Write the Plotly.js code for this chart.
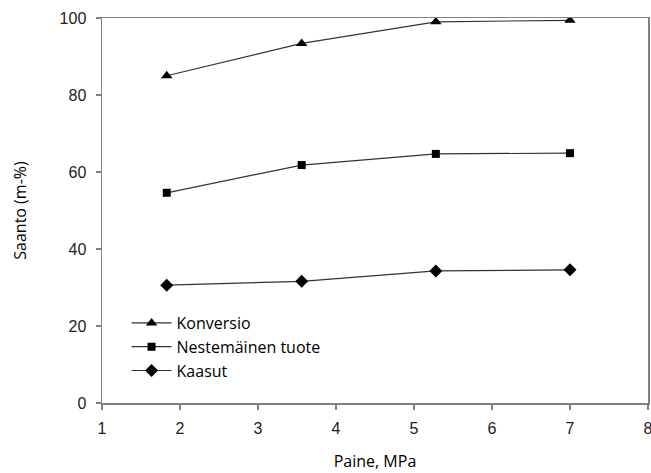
<!DOCTYPE html>
<html>
<head>
<meta charset="utf-8">
<script src="https://cdn.plot.ly/plotly-3.0.1.min.js"></script>
<style>html,body{margin:0;padding:0;background:#fff;}#chart{width:651px;height:473px;}</style>
</head>
<body>
<div id="chart"></div>
<script>
// Data
var pressure = [1.83, 3.56, 5.28, 7.0];
var konversio = [85.0, 93.4, 99.0, 99.4];
var nestemainen = [54.6, 61.8, 64.7, 64.9];
var kaasut = [30.6, 31.6, 34.3, 34.6];
var seriesNames = ["Konversio", "Nestemäinen tuote", "Kaasut"];
var xTicks = [1, 2, 3, 4, 5, 6, 7, 8];
var yTicks = [0, 20, 40, 60, 80, 100];

var lineStyle = {color: '#333333', width: 1.2};
var traces = [
  {x: pressure, y: konversio, name: seriesNames[0], mode: 'lines+markers', type: 'scatter',
   line: lineStyle, marker: {symbol: 'triangle-up', size: 10, color: '#000'}},
  {x: pressure, y: nestemainen, name: seriesNames[1], mode: 'lines+markers', type: 'scatter',
   line: lineStyle, marker: {symbol: 'square', size: 8, color: '#000'}},
  {x: pressure, y: kaasut, name: seriesNames[2], mode: 'lines+markers', type: 'scatter',
   line: lineStyle, marker: {symbol: 'diamond', size: 10, color: '#000'}}
];

var axisCommon = {
  showgrid: false, zeroline: false, showline: true, linecolor: '#808080', linewidth: 1.5,
  mirror: true, ticks: 'outside', ticklen: 5, tickcolor: '#808080', tickwidth: 1.2,
  ticklabeloverflow: 'allow',
  tickfont: {family: 'Liberation Sans, Arial, sans-serif', size: 16, color: '#222'}
};

var layout = {
  width: 651, height: 473,
  margin: {l: 102, r: 3, t: 18, b: 70},
  paper_bgcolor: '#fff', plot_bgcolor: '#fff',
  showlegend: true,
  legend: {x: 0.045, y: 0.252, xanchor: 'left', yanchor: 'top', bgcolor: 'rgba(0,0,0,0)',
    font: {family: 'Open Sans, sans-serif', size: 16, color: '#000'}, itemwidth: 40,
    tracegroupgap: 0},
  xaxis: Object.assign({}, axisCommon, {
    range: [1, 8], tickvals: xTicks, ticktext: xTicks.map(String), ticklabelstandoff: 5,
    title: {text: 'Paine, MPa', font: {family: 'Open Sans, sans-serif', size: 16, color: '#000'}, standoff: 20}
  }),
  yaxis: Object.assign({}, axisCommon, {
    range: [0, 100], tickvals: yTicks, ticktext: yTicks.map(String), ticklabelstandoff: 6,
    title: {text: 'Saanto (m-%)', font: {family: 'Open Sans, sans-serif', size: 16, color: '#000'}, standoff: 29}
  })
};

Plotly.newPlot('chart', traces, layout, {displayModeBar: false, staticPlot: true});
</script>
</body>
</html>
